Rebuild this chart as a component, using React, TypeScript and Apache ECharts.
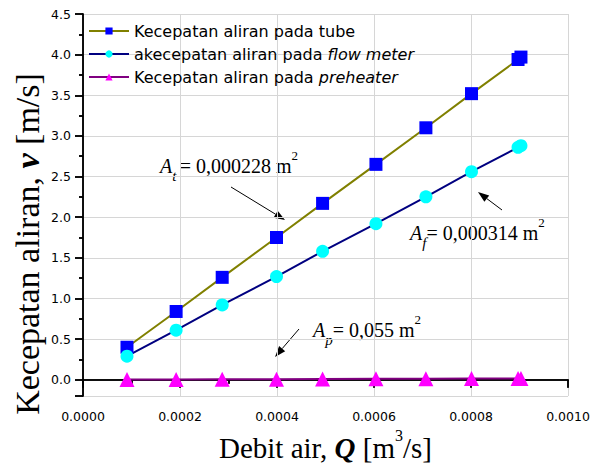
import React, { useEffect, useRef } from "react";
import * as echarts from "echarts";

// ---- data ----
const flowRates = [0.0000907, 0.000192, 0.000287, 0.000399, 0.000494, 0.000604, 0.000707, 0.000801, 0.000897, 0.000903];
const tubeVelocity = [0.4, 0.84, 1.26, 1.75, 2.17, 2.65, 3.1, 3.52, 3.94, 3.97];
const flowMeterVelocity = [0.29, 0.61, 0.92, 1.27, 1.58, 1.92, 2.25, 2.56, 2.86, 2.88];
const preheaterVelocity = [0.002, 0.003, 0.005, 0.007, 0.009, 0.011, 0.013, 0.015, 0.016, 0.016];

const seriesNames = [
  "Kecepatan aliran pada tube",
  "akecepatan aliran pada flow meter",
  "Kecepatan aliran pada preheater",
];
const legendLabels = [
  "{n|Kecepatan aliran pada tube}",
  "{n|akecepatan aliran pada }{i|flow meter}",
  "{n|Kecepatan aliran pada }{i|preheater}",
];

const xRange = [0, 0.001];
const xStep = 0.0002;
const yRange = [-0.2, 4.5];

const areaLabels = ["0,000228", "0,000314", "0,055"];

const SERIF = "'Liberation Serif', 'Times New Roman', serif";
const SANS = "'DejaVu Sans', 'Liberation Sans', Arial, sans-serif";

function arrow(x1: number, y1: number, x2: number, y2: number) {
  const ang = Math.atan2(y2 - y1, x2 - x1);
  const L = 11;
  const W = 4;
  const bx = x2 - L * Math.cos(ang);
  const by = y2 - L * Math.sin(ang);
  const px = -Math.sin(ang) * W;
  const py = Math.cos(ang) * W;
  return [
    {
      type: "line",
      shape: { x1, y1, x2: bx, y2: by },
      style: { stroke: "#000", lineWidth: 1 },
      silent: true,
    },
    {
      type: "polygon",
      shape: { points: [[x2, y2], [bx + px, by + py], [bx - px, by - py]] },
      style: { fill: "#000" },
      silent: true,
    },
  ];
}

function annotationRich() {
  return {
    a: { fontFamily: SERIF, fontSize: 20, fontStyle: "italic", lineHeight: 34, verticalAlign: "middle" },
    s: { fontFamily: SERIF, fontSize: 15, fontStyle: "italic", lineHeight: 15, verticalAlign: "bottom" },
    n: { fontFamily: SERIF, fontSize: 20, lineHeight: 34, verticalAlign: "middle" },
    p: { fontFamily: SERIF, fontSize: 13, lineHeight: 22, verticalAlign: "top" },
  };
}

export default function App() {
  const ref = useRef<HTMLDivElement>(null);

  useEffect(() => {
    if (!ref.current) return;
    const chart = echarts.init(ref.current, null, { renderer: "svg" });

    const toPairs = (ys: number[]) => flowRates.map((x, i) => [x, ys[i]]);

    const axisLine = { show: true, lineStyle: { color: "#000", width: 1.5 } };
    const gridLine = { show: true, lineStyle: { color: "#d6d6d6", width: 1 } };
    const tickStyle = { color: "#000", width: 1.5 };

    const option: any = {
      animation: false,
      backgroundColor: "#fff",
      grid: { left: 83, top: 14, width: 485, height: 382, containLabel: false, outerBoundsMode: "none" },
      legend: {
        orient: "vertical",
        left: 88,
        top: 23,
        padding: 0,
        itemWidth: 40,
        itemHeight: 9,
        itemGap: 7,
        data: seriesNames,
        formatter: (name: string) => legendLabels[seriesNames.indexOf(name)],
        textStyle: {
          fontFamily: SANS,
          fontSize: 16,
          color: "#000",
          lineHeight: 16,
          rich: {
            n: { fontFamily: SANS, fontSize: 16, color: "#000", lineHeight: 16 },
            i: { fontFamily: SANS, fontSize: 16, fontStyle: "italic", color: "#000", lineHeight: 16 },
          },
        },
      },
      xAxis: [
        {
          type: "value",
          min: xRange[0],
          max: xRange[1],
          interval: xStep,
          position: "bottom",
          axisLine,
          axisTick: { show: true, inside: false, length: 8, lineStyle: tickStyle },
          minorTick: { show: true, splitNumber: 2, length: 4, lineStyle: tickStyle },
          splitLine: gridLine,
          axisLabel: {
            formatter: (v: number) => v.toFixed(4),
            fontFamily: SANS,
            fontSize: 12.5,
            color: "#000",
            margin: 14,
          },
          name: "Debit air, {q|Q} [m{p|3}/s]",
          nameLocation: "middle",
          nameGap: 31,
          nameTextStyle: {
            fontFamily: SERIF,
            fontSize: 29,
            color: "#000",
            lineHeight: 40,
            rich: {
              q: { fontFamily: SERIF, fontSize: 29, fontStyle: "italic", fontWeight: "bold", color: "#000", lineHeight: 40 },
              p: { fontFamily: SERIF, fontSize: 16, color: "#000", lineHeight: 26, verticalAlign: "top" },
            },
          },
        },
        {
          type: "value",
          min: xRange[0],
          max: xRange[1],
          interval: xStep,
          position: "top",
          axisLine,
          axisTick: { show: true, inside: true, length: 8, lineStyle: tickStyle },
          minorTick: { show: true, splitNumber: 2, length: 4, lineStyle: tickStyle },
          splitLine: { show: false },
          axisLabel: { show: false },
        },
      ],
      yAxis: [
        {
          type: "value",
          min: yRange[0],
          max: yRange[1],
          splitNumber: 9,
          position: "left",
          axisLine,
          axisTick: { show: true, inside: false, length: 8, lineStyle: tickStyle },
          minorTick: { show: true, splitNumber: 2, length: 4, lineStyle: tickStyle },
          splitLine: gridLine,
          axisLabel: {
            showMinLabel: false,
            formatter: (v: number) => (v < -0.01 ? "" : v.toFixed(1)),
            fontFamily: SANS,
            fontSize: 12.5,
            color: "#000",
            margin: 12,
          },
        },
        {
          type: "value",
          min: yRange[0],
          max: yRange[1],
          splitNumber: 9,
          position: "right",
          axisLine,
          axisTick: { show: true, inside: true, length: 8, lineStyle: tickStyle },
          minorTick: { show: true, splitNumber: 2, length: 4, lineStyle: tickStyle },
          splitLine: { show: false },
          axisLabel: { show: false },
        },
      ],
      series: [
        {
          name: seriesNames[0],
          type: "line",
          data: toPairs(tubeVelocity),
          symbol: "rect",
          symbolSize: 13,
          itemStyle: { color: "#0000ff" },
          lineStyle: { color: "#808000", width: 2 },
          z: 3,
        },
        {
          name: seriesNames[1],
          type: "line",
          data: toPairs(flowMeterVelocity),
          symbol: "circle",
          symbolSize: 13,
          itemStyle: { color: "#00ffff" },
          lineStyle: { color: "#000080", width: 2 },
          z: 3,
        },
        {
          name: seriesNames[2],
          type: "line",
          data: toPairs(preheaterVelocity),
          symbol: "triangle",
          symbolSize: 15,
          itemStyle: { color: "#ff00ff" },
          lineStyle: { color: "#800080", width: 2 },
          z: 3,
        },
      ],
      graphic: [
        {
          type: "text",
          x: 27,
          y: 244,
          rotation: Math.PI / 2,
          style: {
            text: "Kecepatan aliran, {v|v} [m/s]",
            fontFamily: SERIF,
            fontSize: 34,
            fill: "#000",
            align: "center",
            verticalAlign: "middle",
            rich: {
              v: { fontFamily: SERIF, fontSize: 34, fontStyle: "italic", fontWeight: "bold", fill: "#000" },
            },
          },
        },
        {
          type: "text",
          x: 160,
          y: 166,
          style: {
            text: `{a|A}{s|t} {n|= ${areaLabels[0]} m}{p|2}`,
            fill: "#000",
            align: "left",
            verticalAlign: "middle",
            rich: annotationRich(),
          },
        },
        {
          type: "text",
          x: 410,
          y: 233,
          style: {
            text: `{a|A}{s|f}{n|= ${areaLabels[1]} m}{p|2}`,
            fill: "#000",
            align: "left",
            verticalAlign: "middle",
            rich: annotationRich(),
          },
        },
        {
          type: "text",
          x: 313,
          y: 330,
          style: {
            text: `{a|A}{s|p}{n|= ${areaLabels[2]} m}{p|2}`,
            fill: "#000",
            align: "left",
            verticalAlign: "middle",
            rich: annotationRich(),
          },
        },
        ...arrow(231, 187, 285, 220),
        ...arrow(502, 210, 478, 192),
        ...arrow(299, 329, 275, 357),
      ],
    };

    chart.setOption(option);
    return () => chart.dispose();
  }, []);

  return (
    <div
      ref={ref}
      style={{ position: "fixed", left: 0, top: 0, width: 590, height: 474 }}
    />
  );
}
